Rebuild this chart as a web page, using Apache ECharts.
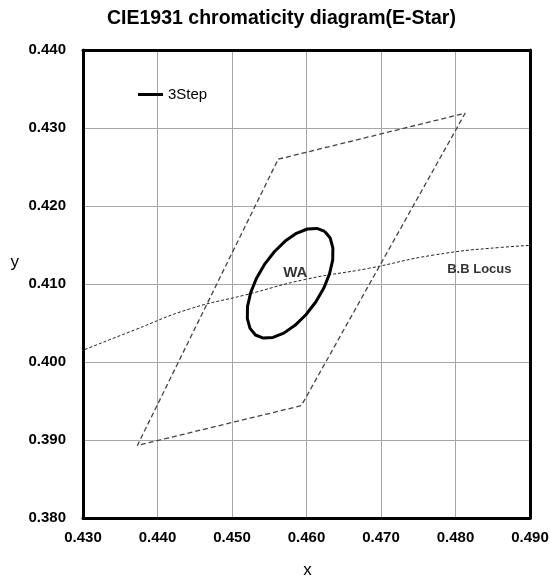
<!DOCTYPE html>
<html>
<head>
<meta charset="utf-8">
<script src="https://cdn.jsdelivr.net/npm/echarts@6/dist/echarts.min.js"></script>
<style>
  html, body { margin: 0; padding: 0; background: #fff; }
  #chart { width: 550px; height: 580px; }
</style>
</head>
<body>
<div id="chart"></div>
<script>
// axis ranges
const xRange = [0.430, 0.490];
const yRange = [0.380, 0.440];
const tickStep = 0.010;

// 3-step ellipse (2700K), points read around the curve
const ellipseX = [0.46245, 0.46140, 0.46010, 0.45865, 0.45714, 0.45568, 0.45436, 0.45327,
  0.45250, 0.45208, 0.45206, 0.45242, 0.45315, 0.45420, 0.45550, 0.45695, 0.45846,
  0.45992, 0.46124, 0.46233, 0.46310, 0.46352, 0.46354, 0.46318, 0.46245];
const ellipseY = [0.41674, 0.41713, 0.41705, 0.41650, 0.41550, 0.41414, 0.41251, 0.41071,
  0.40887, 0.40711, 0.40556, 0.40431, 0.40346, 0.40307, 0.40315, 0.40370, 0.40470,
  0.40606, 0.40769, 0.40949, 0.41133, 0.41309, 0.41464, 0.41589, 0.41674];

// E-Star quadrangle corners
const quadX = [0.4562, 0.4813, 0.4593, 0.4373, 0.4562];
const quadY = [0.4260, 0.4319, 0.3944, 0.3893, 0.4260];

// black body locus
const locusX = [0.4234, 0.4369, 0.4443, 0.4518, 0.4599, 0.4683, 0.4770, 0.4862, 0.4959];
const locusY = [0.3990, 0.4041, 0.4068, 0.4086, 0.4106, 0.4120, 0.4137, 0.4147, 0.4152];

// text annotations
const noteText = ['WA', 'B.B Locus'];
const noteX = [0.4585, 0.4832];
const noteY = [0.4114, 0.4119];
const noteSize = [15, 13];

const FONT = "'Liberation Sans', Arial, sans-serif";

const zip = (xs, ys) => xs.map((x, i) => [x, ys[i]]);

const chart = echarts.init(document.getElementById('chart'));

const baseAxis = {
  type: 'value',
  interval: tickStep,
  axisTick: { show: false },
  axisLine: { show: true, onZero: false, lineStyle: { color: '#000', width: 3 } },
  splitLine: { show: true, lineStyle: { color: '#a6a6a6', width: 1 } },
  axisLabel: {
    fontFamily: FONT, fontSize: 15, fontWeight: 'bold', color: '#000',
    formatter: v => v.toFixed(3)
  }
};

chart.setOption({
  animation: false,
  textStyle: { fontFamily: FONT },
  title: {
    text: 'CIE1931 chromaticity diagram(E-Star)',
    left: 102,
    top: 4,
    textStyle: { fontFamily: FONT, fontSize: 19.5, fontWeight: 'bold', color: '#000' }
  },
  legend: {
    data: [{ name: '3Step', icon: 'rect', itemStyle: { color: '#000' } }],
    left: 133,
    top: 82,
    itemWidth: 25,
    itemHeight: 3,
    textStyle: { fontFamily: FONT, fontSize: 15, color: '#000' }
  },
  grid: { left: 83, right: 20, top: 50, bottom: 62, outerBoundsMode: 'none' },
  xAxis: [
    Object.assign({}, baseAxis, {
      min: xRange[0], max: xRange[1], position: 'bottom',
      name: 'x', nameLocation: 'middle', nameGap: 44,
      nameTextStyle: { fontFamily: FONT, fontSize: 17, color: '#000', padding: [0, 0, 0, 2] },
      axisLabel: Object.assign({}, baseAxis.axisLabel, { margin: 12 })
    }),
    {
      type: 'value', min: xRange[0], max: xRange[1], position: 'top',
      axisLine: { show: true, lineStyle: { color: '#000', width: 3 } },
      axisTick: { show: false }, axisLabel: { show: false }, splitLine: { show: false }
    }
  ],
  yAxis: [
    Object.assign({}, baseAxis, {
      min: yRange[0], max: yRange[1], position: 'left',
      name: 'y', nameLocation: 'middle', nameGap: 64, nameRotate: 0,
      nameTextStyle: {
        fontFamily: FONT, fontSize: 17, color: '#000',
        verticalAlign: 'bottom', lineHeight: 44
      },
      axisLabel: Object.assign({}, baseAxis.axisLabel, { margin: 17 })
    }),
    {
      type: 'value', min: yRange[0], max: yRange[1], position: 'right',
      axisLine: { show: true, lineStyle: { color: '#000', width: 3 } },
      axisTick: { show: false }, axisLabel: { show: false }, splitLine: { show: false }
    }
  ],
  series: [
    {
      name: 'B.B Locus',
      type: 'line',
      data: zip(locusX, locusY),
      smooth: true,
      symbol: 'none',
      lineStyle: { color: '#222', width: 1, type: [3, 2] },
      z: 3
    },
    {
      name: 'E-Star',
      type: 'line',
      data: zip(quadX, quadY),
      symbol: 'none',
      lineStyle: { color: '#444', width: 1.3, type: [5, 3] },
      z: 3
    },
    {
      name: '3Step',
      type: 'line',
      data: zip(ellipseX, ellipseY),
      symbol: 'none',
      lineStyle: { color: '#000', width: 3, join: 'round' },
      itemStyle: { color: '#000' },
      z: 4
    },
    {
      name: 'notes',
      type: 'scatter',
      symbolSize: 0,
      data: noteText.map((t, i) => ({
        value: [noteX[i], noteY[i]],
        label: { fontSize: noteSize[i] }
      })),
      label: {
        show: true, position: 'inside',
        fontFamily: FONT, fontWeight: 'bold', color: '#000', textBorderWidth: 0,
        formatter: p => noteText[p.dataIndex]
      },
      z: 5
    }
  ]
});
</script>
</body>
</html>
